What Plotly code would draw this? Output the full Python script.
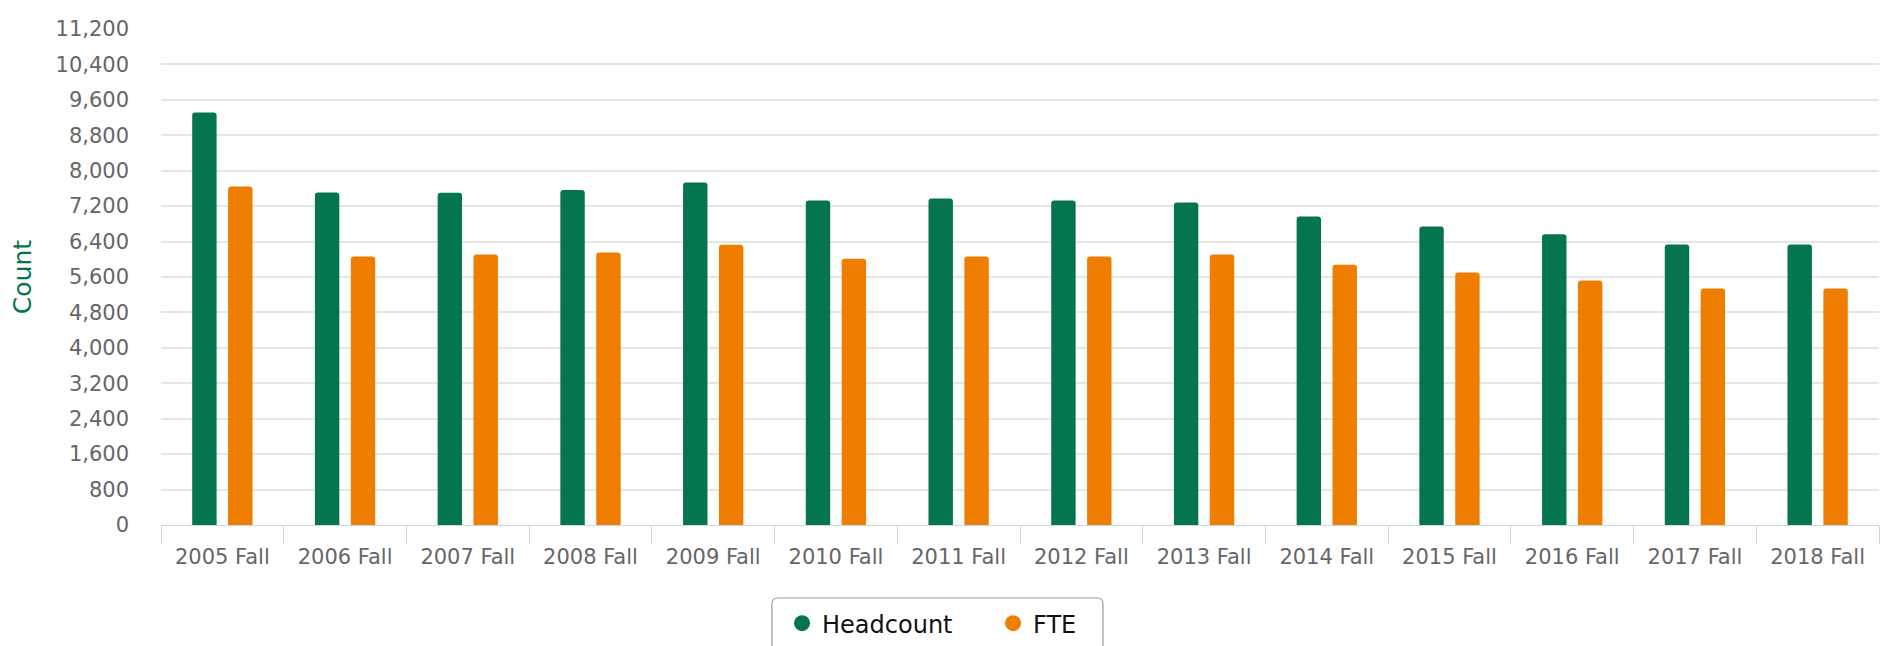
import plotly.graph_objects as go

categories = ["2005 Fall", "2006 Fall", "2007 Fall", "2008 Fall", "2009 Fall", "2010 Fall",
              "2011 Fall", "2012 Fall", "2013 Fall", "2014 Fall", "2015 Fall", "2016 Fall",
              "2017 Fall", "2018 Fall"]
headcount = [9316, 7508, 7501, 7562, 7734, 7327, 7372, 7327, 7282, 6966, 6740, 6565, 6333, 6333]
fte = [7644, 6062, 6107, 6152, 6326, 6010, 6062, 6062, 6107, 5874, 5700, 5520, 5339, 5339]
y_ticks = list(range(0, 11201, 800))

GREEN = "#04754C"
ORANGE = "#EF7D00"
FONT = "DejaVu Sans"

fig = go.Figure()
fig.add_trace(go.Bar(x=categories, y=headcount, name="Headcount", marker_color=GREEN,
                     marker_line_width=0, showlegend=False))
fig.add_trace(go.Bar(x=categories, y=fte, name="FTE", marker_color=ORANGE,
                     marker_line_width=0, showlegend=False))
# legend entries with circular symbols
fig.add_trace(go.Scatter(x=[None], y=[None], mode="markers", name="Headcount",
                         marker=dict(color=GREEN, size=24, symbol="circle")))
fig.add_trace(go.Scatter(x=[None], y=[None], mode="markers", name="FTE",
                         marker=dict(color=ORANGE, size=24, symbol="circle")))

# rounded legend frame (paper coordinates)
x0, x1, y0, y1 = 0.3556, 0.5483, -0.1472, -0.28
rx, ry = 0.0035, 0.012
frame = (f"M {x0+rx},{y0} L {x1-rx},{y0} Q {x1},{y0} {x1},{y0-ry} "
         f"L {x1},{y1} L {x0},{y1} L {x0},{y0-ry} Q {x0},{y0} {x0+rx},{y0} Z")
fig.add_shape(type="path", path=frame, xref="paper", yref="paper",
              line=dict(color="#999999", width=1.2), fillcolor="white", layer="below")

fig.update_layout(
    width=1893, height=646,
    margin=dict(l=153, r=22, t=21, b=129, autoexpand=False),
    paper_bgcolor="white", plot_bgcolor="white",
    font=dict(family=FONT, size=21, color="#666666"),
    barmode="group", bargap=0.415, bargroupgap=0.32,
    barcornerradius=3,
    showlegend=True,
    legend=dict(orientation="h", xref="container", yref="container",
                x=0.4089, xanchor="left", y=0.082, yanchor="top",
                font=dict(family=FONT, size=24, color="#111111"),
                bgcolor="rgba(0,0,0,0)", borderwidth=0,
                itemsizing="trace", entrywidth=166, entrywidthmode="pixels",
                traceorder="normal"),
    xaxis=dict(type="category", showgrid=False, showline=True, linecolor="#ccd6eb",
               linewidth=1, ticks="outside", ticklen=18, tickcolor="#ccd6eb",
               tickson="boundaries", tickfont=dict(size=21, color="#666666"),
               ticklabelstandoff=13, zeroline=False, fixedrange=True),
    yaxis=dict(range=[0, 11200], tickvals=y_ticks, tickformat=",d",
               showgrid=True, gridcolor="#e6e6e6", gridwidth=1.5,
               zeroline=False, showline=False, ticks="", ticklabelstandoff=31,
               tickfont=dict(size=21, color="#666666"),
               title=dict(text="Count", font=dict(size=25, color=GREEN), standoff=28),
               automargin=False, fixedrange=True),
)

fig.write_html("out.html")
